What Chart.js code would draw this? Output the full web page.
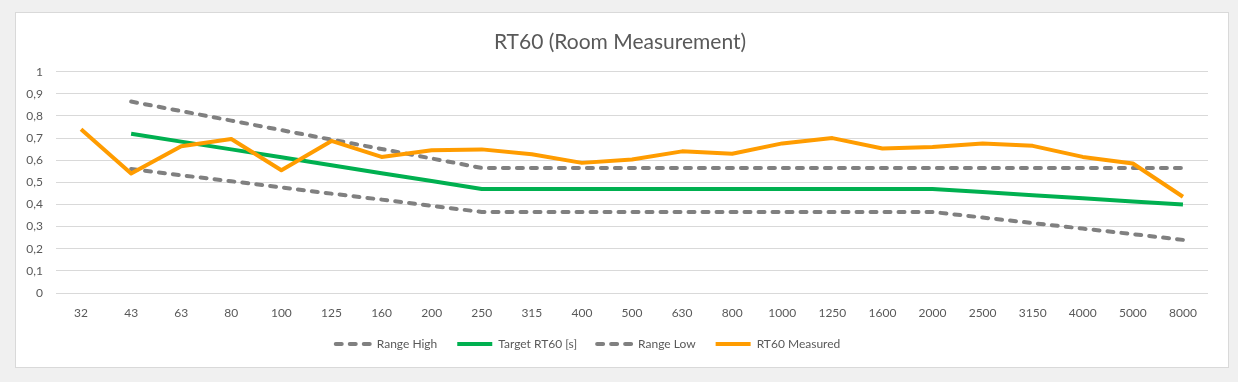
<!DOCTYPE html>
<html lang="en">
<head>
    <meta charset="UTF-8">
    <title>RT60 (Room Measurement)</title>
    <script src="https://cdn.jsdelivr.net/npm/chart.js"></script>
    <style>
        body {
            margin: 0;
            background: #f0f0f0;
        }
        #frame {
            position: absolute;
            left: 15px;
            top: 12px;
            width: 1214px;
            height: 356px;
            box-sizing: border-box;
            border: 1px solid #d9d9d9;
            background: #ffffff;
        }
    </style>
</head>
<body>
    <div id="frame"><canvas id="rt60Chart"></canvas></div>
    <script>
        // frequency bands (Hz)
        const bands = ['32', '43', '63', '80', '100', '125', '160', '200', '250', '315', '400', '500',
            '630', '800', '1000', '1250', '1600', '2000', '2500', '3150', '4000', '5000', '8000'];

        const rangeHigh = [null, 0.865, 0.822, 0.779, 0.736, 0.693, 0.651, 0.608, 0.565, 0.565, 0.565, 0.565,
            0.565, 0.565, 0.565, 0.565, 0.565, 0.565, 0.565, 0.565, 0.565, 0.565, 0.565];
        const targetRT60 = [null, 0.72, 0.684, 0.649, 0.613, 0.577, 0.541, 0.506, 0.47, 0.47, 0.47, 0.47,
            0.47, 0.47, 0.47, 0.47, 0.47, 0.47, 0.456, 0.442, 0.428, 0.414, 0.40];
        const rangeLow = [null, 0.56, 0.532, 0.505, 0.477, 0.449, 0.422, 0.394, 0.366, 0.366, 0.366, 0.366,
            0.366, 0.366, 0.366, 0.366, 0.366, 0.366, 0.341, 0.316, 0.291, 0.266, 0.24];
        const measured = [0.74, 0.54, 0.663, 0.696, 0.555, 0.687, 0.615, 0.645, 0.649, 0.627, 0.588, 0.603,
            0.64, 0.629, 0.676, 0.70, 0.653, 0.66, 0.676, 0.665, 0.615, 0.585, 0.435];

        const textColor = '#595959';
        const font = 'Lato';

        // put title and legend where excel had them
        const placeBoxes = {
            id: 'placeBoxes',
            afterLayout(chart) {
                const lg = chart.legend;
                lg.left -= 24;
                lg.right -= 24;
                lg.top = 305;
                lg.bottom = 350;
                chart.titleBlock.left += 8;
                chart.titleBlock.right += 8;
            }
        };

        // legend samples should look like the lines (dashes too)
        function legendLabels(chart) {
            const items = Chart.defaults.plugins.legend.labels.generateLabels(chart);
            items.forEach(item => {
                const ds = chart.data.datasets[item.datasetIndex];
                item.strokeStyle = ds.borderColor;
                item.lineWidth = ds.borderWidth;
                item.lineDash = ds.borderDash || [];
                item.lineCap = ds.borderCapStyle || 'butt';
            });
            return items;
        }

        const ctx = document.getElementById('rt60Chart').getContext('2d');
        const rt60Chart = new Chart(ctx, {
            type: 'line',
            data: {
                labels: bands,
                datasets: [{
                    label: 'Range High',
                    data: rangeHigh,
                    borderColor: '#808080',
                    borderWidth: 4,
                    borderDash: [6, 8],
                    borderCapStyle: 'round',
                    order: 4
                }, {
                    label: 'Target RT60 [s]',
                    data: targetRT60,
                    borderColor: '#00b050',
                    borderWidth: 4,
                    order: 3
                }, {
                    label: 'Range Low',
                    data: rangeLow,
                    borderColor: '#808080',
                    borderWidth: 4,
                    borderDash: [6, 8],
                    borderCapStyle: 'round',
                    order: 2
                }, {
                    label: 'RT60 Measured',
                    data: measured,
                    borderColor: '#ff9c00',
                    borderWidth: 4,
                    order: 1
                }]
            },
            options: {
                responsive: true,
                maintainAspectRatio: false,
                animation: false,
                elements: {
                    point: { radius: 0, hoverRadius: 0 },
                    line: { tension: 0, fill: false, borderJoinStyle: 'round' }
                },
                layout: {
                    padding: { left: 0, right: 20, top: 0, bottom: 22 }
                },
                plugins: {
                    title: {
                        display: true,
                        text: 'RT60 (Room Measurement)',
                        color: textColor,
                        font: { family: font, size: 21, weight: 'normal' },
                        padding: { top: 17, bottom: 16.5 }
                    },
                    legend: {
                        position: 'bottom',
                        maxHeight: 18,
                        labels: {
                            color: textColor,
                            font: { family: font, size: 12 },
                            usePointStyle: true,
                            pointStyle: 'line',
                            pointStyleWidth: 35,
                            padding: 20,
                            generateLabels: legendLabels,
                            sort: (a, b) => a.datasetIndex - b.datasetIndex
                        }
                    },
                    tooltip: { enabled: false }
                },
                scales: {
                    x: {
                        offset: true,
                        afterFit: (scale) => { scale.height = 34; },
                        grid: { display: false, drawTicks: false },
                        border: { display: false },
                        ticks: {
                            color: textColor,
                            font: { family: font, size: 12 },
                            padding: 13,
                            maxRotation: 0,
                            autoSkip: false
                        }
                    },
                    y: {
                        min: 0,
                        max: 1,
                        afterFit: (scale) => { scale.width = 40; },
                        grid: { color: '#d9d9d9', drawTicks: false },
                        border: { display: false },
                        ticks: {
                            stepSize: 0.1,
                            color: textColor,
                            font: { family: font, size: 12 },
                            padding: 13,
                            callback: (v) => String(Math.round(v * 10) / 10).replace('.', ',')
                        }
                    }
                }
            },
            plugins: [placeBoxes]
        });
    </script>
</body>
</html>
